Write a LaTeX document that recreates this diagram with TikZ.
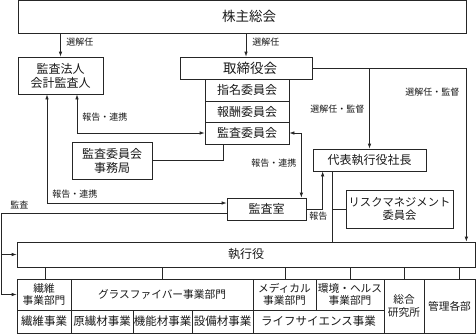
\documentclass[tikz,border=0pt]{standalone}
\usepackage{fontspec}
\setmainfont{Noto Sans CJK JP}
\usetikzlibrary{arrows.meta,calc}
\newcommand\myfs[2]{\fontsize{#1}{#2}\selectfont}
\newcommand\bx[7][]{\node[box,#1,minimum width={(#5-#3)*1pt},minimum height={(#6-#4)*1pt}] (#2) at ({(#3+#5)/2},{(#4+#6)/2}) {#7};}
\begin{document}
\begin{tikzpicture}[x=1pt,y=-1pt,
  line width=0.7pt, draw=black!85,
  box/.style={draw=black!85, line width=0.7pt, inner sep=0pt, align=center, font=\myfs{12}{14}, text=black!90},
  big/.style={font=\myfs{13.5}{15}},
  dep/.style={font=\myfs{10.7}{12.5}},
  low/.style={font=\myfs{11.5}{13}},
  lab/.style={font=\myfs{9}{10}, inner sep=0pt, anchor=west, text=black!90},
  arr/.style={-{Latex[length=5pt,width=3.5pt]}},
  arrb/.style={{Latex[length=5pt,width=3.5pt]}-{Latex[length=5pt,width=3.5pt]}}]
\useasboundingbox (0,0) rectangle (476,335);
% boxes
\bx[big]{sh}{18}{0.5}{466}{33}{\hspace*{14pt}株主総会}
\bx{audit}{18}{57}{103}{94}{監査法人\\会計監査人}
\bx[big]{bod}{180}{57}{312}{79}{\hspace*{8pt}取締役会}
\bx{nom}{205}{79}{289}{101}{指名委員会}
\bx{rem}{205}{101}{289}{122}{報酬委員会}
\bx{ac}{205}{122}{289}{144}{監査委員会}
\bx{acs}{72}{142}{152}{179}{監査委員会\\事務局}
\bx{ceo}{313}{149}{426}{171}{代表執行役社長}
\bx{ia}{227}{198}{306}{220}{監査室}
\bx[font=\myfs{11.3}{13}]{risk}{346}{190}{453}{228}{リスクマネジメント\\委員会}
\bx{exec}{17}{242}{475}{267}{執行役}
\bx[dep]{d1}{17}{279}{71}{310}{繊維\\事業部門}
\bx[dep]{d2}{71}{279}{253}{310}{グラスファイバー事業部門}
\bx[dep]{d3}{253}{279}{316}{310}{メディカル\\事業部門}
\bx[dep]{d4}{316}{279}{384}{310}{環境・ヘルス\\事業部門}
\bx[dep]{d5}{384}{279}{424}{333}{総合\\研究所}
\bx[dep]{d6}{424}{279}{475}{333}{管理各部}
\bx[low]{b1}{17}{310}{71}{333}{繊維事業}
\bx[low]{b2}{71}{310}{133}{333}{原繊材事業}
\bx[low]{b3}{133}{310}{192}{333}{機能材事業}
\bx[low]{b4}{192}{310}{253}{333}{設備材事業}
\bx[low]{b5}{253}{310}{384}{333}{ライフサイエンス事業}
% connectors
\draw[arr] (audit.north |- sh.south) -- (audit.north);
\draw[arr] (bod.north |- sh.south) -- (bod.north);
\draw[arrb] ([xshift=16.5pt]audit.south) |- (ac.west);
\draw (acs.east) -| ([xshift=-24pt]ac.south);
\draw[arrb] ([xshift=-13.5pt]audit.south) |- ([yshift=6pt]ia.west);
\coordinate (kl) at (1,0);
\draw[arr] ([yshift=-4pt]ia.west) -| (kl |- d1.west) -- (d1.west);
\draw[arr] (kl |- exec.west) -- (exec.west);
\draw[arr] (bod.east) -| ([xshift=-9pt]exec.north east);
\draw[arr] (bod.east -| ceo.north) -- (ceo.north);
\draw[arrb] (ac.east) -| ([xshift=-5pt]ia.north east);
\draw[arr] (ia.east) -| ([xshift=10pt]ceo.south west);
\coordinate (cb) at ([xshift=20pt]ceo.south west);
\draw (cb) -- (cb |- exec.north);
\draw (cb |- risk.west) -- (risk.west);
\foreach \n/\dx in {d1/1,d2/0,d3/0.5,d4/0,d5/0,d6/9.5}{
  \coordinate (t) at ([xshift=\dx pt]\n.north);
  \draw (t) -- (t |- exec.south);
}
% labels
\node[lab] (l1) at (66,42) {選解任};
\node[lab] (l2) at (252,42) {選解任};
\node[lab] (l3) at (82,117) {報告・連携};
\node[lab] (l4) at (310,109) {選解任・監督};
\node[lab] (l5) at (405,92) {選解任・監督};
\node[lab] (l6) at (251,163) {報告・連携};
\node[lab] (l7) at (52,194) {報告・連携};
\node[lab] (l8) at (10,205) {監査};
\node[lab] (l9) at (309,216) {報告};
\end{tikzpicture}
\end{document}
